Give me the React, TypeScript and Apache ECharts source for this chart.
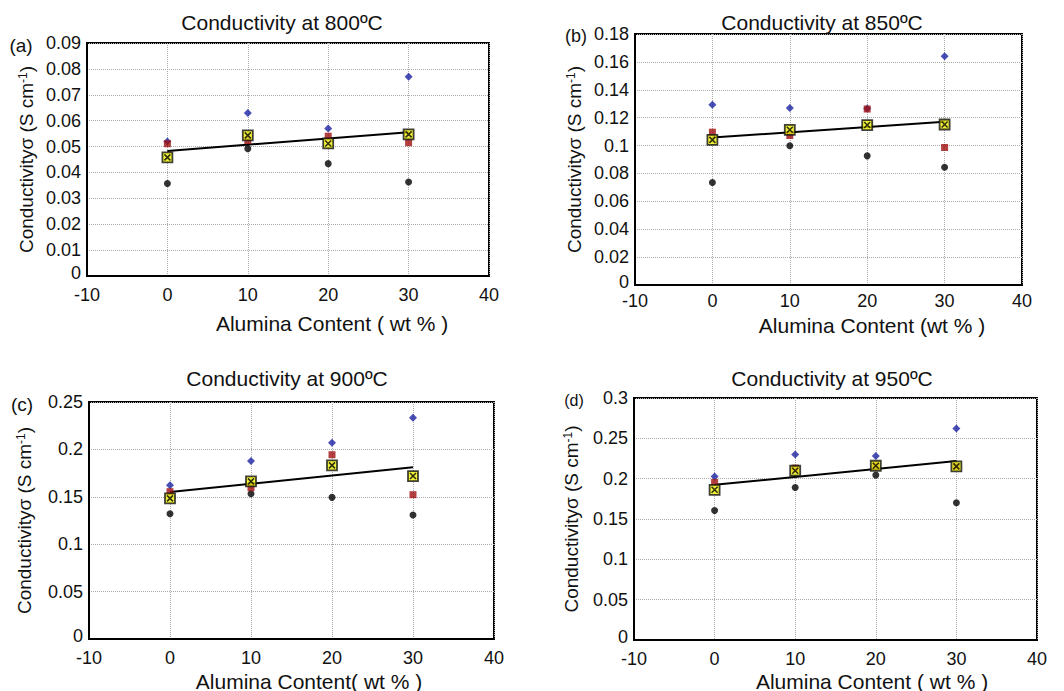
import React, { useEffect, useRef } from "react";
import * as echarts from "echarts";

const xValues = [0, 10, 20, 30];
const fitX = [0, 30];

const titles = ["Conductivity at 800ºC", "Conductivity at 850ºC", "Conductivity at 900ºC", "Conductivity at 950ºC"];
const panelLabels = ["(a)", "(b)", "(c)", "(d)"];
const xNames = ["Alumina Content ( wt % )", "Alumina Content (wt % )", "Alumina Content( wt % )", "Alumina Content ( wt % )"];
const yMax = [0.09, 0.18, 0.25, 0.3];
const yInterval = [0.01, 0.02, 0.05, 0.05];

const aBlue = [0.052, 0.063, 0.057, 0.077];
const aRed = [0.0511, 0.0523, 0.054, 0.0515];
const aBlack = [0.0357, 0.0492, 0.0434, 0.0363];
const aMean = [0.0458, 0.0543, 0.0512, 0.0547];
const aFit = [0.0483, 0.0555];

const bBlue = [0.1293, 0.1269, 0.1266, 0.164];
const bRed = [0.1096, 0.1072, 0.1262, 0.0986];
const bBlack = [0.0735, 0.0998, 0.0926, 0.0845];
const bMean = [0.1041, 0.1113, 0.1147, 0.1151];
const bFit = [0.1058, 0.117];

const cBlue = [0.1621, 0.1878, 0.2071, 0.2335];
const cRed = [0.1554, 0.1596, 0.1944, 0.1522];
const cBlack = [0.1322, 0.1533, 0.1494, 0.1308];
const cMean = [0.1484, 0.1663, 0.1832, 0.1719];
const cFit = [0.155, 0.1811];

const dBlue = [0.2028, 0.2301, 0.228, 0.2623];
const dRed = [0.1953, 0.2131, 0.216, 0.2152];
const dBlack = [0.1606, 0.1891, 0.2044, 0.1701];
const dMean = [0.1862, 0.2098, 0.216, 0.2152];
const dFit = [0.1924, 0.2218];

const panels = [
  { blue: aBlue, red: aRed, black: aBlack, mean: aMean, fit: aFit },
  { blue: bBlue, red: bRed, black: bBlack, mean: bMean, fit: bFit },
  { blue: cBlue, red: cRed, black: cBlack, mean: cMean, fit: cFit },
  { blue: dBlue, red: dRed, black: dBlack, mean: dMean, fit: dFit },
];

const FONT = "Liberation Sans, Arial, sans-serif";

const grids = [
  { left: 87, top: 43, width: 402, height: 233 },
  { left: 635, top: 34, width: 387, height: 251 },
  { left: 89, top: 402, width: 405, height: 237 },
  { left: 634, top: 398, width: 403, height: 242 },
];
const yNameGaps = [51, 51, 55, 53];
const xLabelMargins = [10, 7, 10, 10];
const titlePos = [[282, 22], [822, 22], [287, 378], [832, 378]];
const xNamePos = [[332, 323], [872, 325], [309, 681], [872, 681]];
const labelPos = [[21, 45], [576, 36], [22, 404], [574, 400]];
const labelSizes = [19, 18, 19, 16];

const pairs = (ys: number[], xs: number[]) => ys.map((y, i) => [xs[i], y]);

export default function App() {
  const ref = useRef<HTMLDivElement>(null);
  useEffect(() => {
    const chart = echarts.init(ref.current!, null, { renderer: "svg" });
    const series: any[] = [];
    panels.forEach((p, i) => {
      series.push({
        type: "line", xAxisIndex: i, yAxisIndex: i, data: pairs(p.fit, fitX),
        symbol: "none", lineStyle: { color: "#000", width: 2 }, z: 2,
      });
      series.push({
        type: "scatter", xAxisIndex: i, yAxisIndex: i, data: pairs(p.black, xValues),
        symbol: "circle", symbolSize: 7, itemStyle: { color: "#000" }, z: 3,
      });
      series.push({
        type: "scatter", xAxisIndex: i, yAxisIndex: i, data: pairs(p.blue, xValues),
        symbol: "diamond", symbolSize: 8, itemStyle: { color: "#1a22a0" }, z: 3,
      });
      series.push({
        type: "scatter", xAxisIndex: i, yAxisIndex: i, data: pairs(p.red, xValues),
        symbol: "rect", symbolSize: 7, itemStyle: { color: "#a01010" }, z: 4,
      });
      series.push({
        type: "scatter", xAxisIndex: i, yAxisIndex: i, data: pairs(p.mean, xValues),
        symbol: "rect", symbolSize: 10, itemStyle: { color: "#f2f20a", borderColor: "#111", borderWidth: 1.8 }, z: 5,
      });
      series.push({
        type: "scatter", xAxisIndex: i, yAxisIndex: i, data: pairs(p.mean, xValues),
        symbol: "path://M0,0L10,10M10,0L0,10", symbolSize: 6, symbolKeepAspect: true,
        itemStyle: { color: "none", borderColor: "#000", borderWidth: 1.6 }, z: 6,
      });
    });

    const graphic: any[] = [];
    titles.forEach((t, i) => {
      graphic.push({
        type: "text", x: titlePos[i][0], y: titlePos[i][1],
        style: { text: t, font: `21px ${FONT}`, fill: "#111", textAlign: "center", textVerticalAlign: "middle" },
      });
      graphic.push({
        type: "text", x: xNamePos[i][0], y: xNamePos[i][1],
        style: { text: xNames[i], font: `21px ${FONT}`, fill: "#111", textAlign: "center", textVerticalAlign: "middle" },
      });
      graphic.push({
        type: "text", x: labelPos[i][0], y: labelPos[i][1],
        style: { text: panelLabels[i], font: `${labelSizes[i]}px ${FONT}`, fill: "#111", textAlign: "center", textVerticalAlign: "middle" },
      });
    });

    chart.setOption({
      animation: false,
      backgroundColor: "#fff",
      grid: grids.map((g) => ({ ...g, show: true, borderColor: "#000", borderWidth: 2, containLabel: false })),
      xAxis: grids.map((_, i) => ({
        type: "value", gridIndex: i, min: -10, max: 40, interval: 10,
        axisLine: { show: true, onZero: false, lineStyle: { color: "#000", width: 2 } },
        axisTick: { show: false },
        axisLabel: { fontSize: 18, fontFamily: FONT, color: "#111", margin: xLabelMargins[i] },
        splitLine: { show: true, lineStyle: { color: "#aaa", type: "dotted", width: 1 } },
      })),
      yAxis: grids.map((_, i) => ({
        type: "value", gridIndex: i, min: 0, max: yMax[i], interval: yInterval[i],
        name: "Conductivityσ (S cm{sup|-1})",
        nameLocation: "middle", nameGap: yNameGaps[i], nameRotate: 90,
        nameTextStyle: {
          fontSize: 19, fontFamily: FONT, color: "#111",
          rich: { sup: { fontSize: 12, fontFamily: FONT, color: "#111", verticalAlign: "top", lineHeight: 12 } },
        },
        axisLine: { show: true, onZero: false, lineStyle: { color: "#000", width: 2 } },
        axisTick: { show: false },
        axisLabel: {
          fontSize: 18, fontFamily: FONT, color: "#111", margin: 6,
          formatter: (v: number) => (v === 0 ? "{z|0}" : String(+v.toFixed(3))),
          rich: { z: { fontSize: 18, fontFamily: FONT, color: "#111", padding: [0, 0, 6, 0] } },
        },
        splitLine: { show: true, lineStyle: { color: "#aaa", type: "dotted", width: 1 } },
      })),
      series,
      graphic,
    });
    return () => chart.dispose();
  }, []);
  return <div ref={ref} style={{ position: "fixed", left: 0, top: 0, width: 1064, height: 691, background: "#fff" }} />;
}
